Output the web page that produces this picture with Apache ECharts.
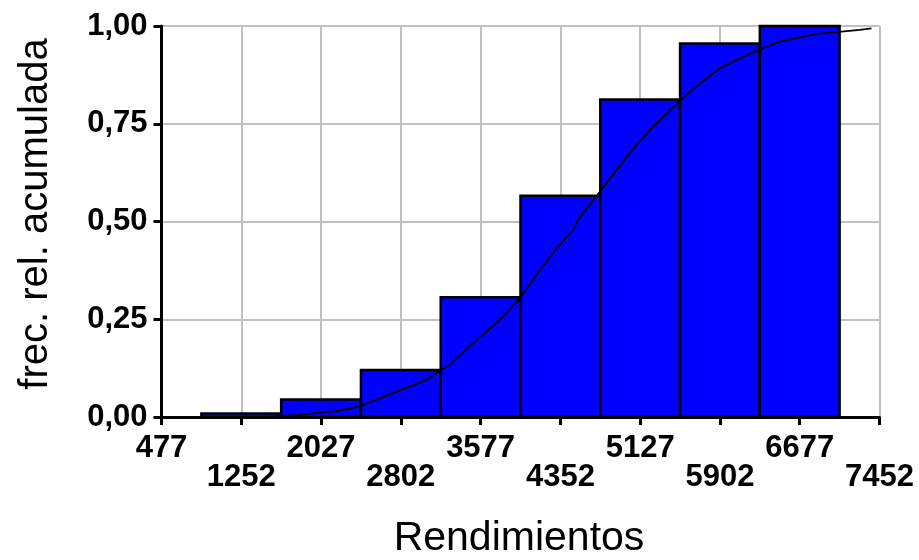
<!DOCTYPE html>
<html>
<head>
<meta charset="utf-8">
<style>
  html, body { margin: 0; padding: 0; background: #fff; }
  #chart { width: 919px; height: 560px; }
</style>
<script src="https://cdn.jsdelivr.net/npm/echarts@6/dist/echarts.min.js"></script>
</head>
<body>
<div id="chart"></div>
<script>
// Class marks (bin centres) of "Rendimientos" and their cumulative relative frequency
const binCenters = [1252, 2027, 2802, 3577, 4352, 5127, 5902, 6677];
const cumRelFreq = [0.009, 0.045, 0.120, 0.306, 0.566, 0.812, 0.955, 1.000];
const binWidth = 775;

// Axis ticks
const xTicks = [477, 1252, 2027, 2802, 3577, 4352, 5127, 5902, 6677, 7452];
const yTicks = [0, 0.25, 0.5, 0.75, 1];

// Empirical cumulative distribution (fitted curve)
const cdfX = [1500, 1790, 2016, 2211, 2405, 2725, 3053, 3191, 3279, 3502, 3764, 3965,
              4153, 4315, 4473, 4522, 4723, 4898, 5075, 5221, 5503, 5707, 5901, 6095,
              6280, 6484, 6646, 6840, 7057, 7261, 7374];
const cdfY = [0.000, 0.005, 0.011, 0.016, 0.028, 0.061, 0.095, 0.120, 0.133, 0.189, 0.248, 0.306,
              0.376, 0.431, 0.478, 0.504, 0.572, 0.632, 0.691, 0.734, 0.806, 0.853, 0.892, 0.917,
              0.939, 0.960, 0.969, 0.980, 0.985, 0.990, 0.994];

// The x axis starts at 477; values are plotted relative to that origin so the
// tick grid (step 775) lines up with the first tick.
const X0 = xTicks[0];
const X_STEP = xTicks[1] - xTicks[0];
const X_SPAN = xTicks[xTicks.length - 1] - X0;

const FONT = '"Liberation Sans", Arial, sans-serif';

const barData = binCenters.map((c, i) => [c - binWidth / 2 - X0, c + binWidth / 2 - X0, cumRelFreq[i]]);
const lineData = cdfX.map((x, i) => [x - X0, cdfY[i]]);

const chart = echarts.init(document.getElementById('chart'), null, { renderer: 'canvas' });

chart.setOption({
  animation: false,
  backgroundColor: '#ffffff',
  grid: { left: 161.5, right: 39.5, top: 26, bottom: 143, containLabel: false },
  xAxis: {
    type: 'value',
    min: 0,
    max: X_SPAN,
    interval: X_STEP,
    axisLine: { show: true, onZero: false, lineStyle: { color: '#000', width: 3 } },
    axisTick: { show: true, inside: false, length: 8, lineStyle: { color: '#000', width: 3 } },
    splitLine: { show: true, lineStyle: { color: '#c0c0c0', width: 2 } },
    axisLabel: {
      interval: 0,
      margin: 17,
      color: '#000',
      fontFamily: FONT,
      fontWeight: 'bold',
      fontSize: 31,
      lineHeight: 29,
      showMinLabel: true,
      showMaxLabel: true,
      formatter: function (v) {
        const idx = Math.round(v / X_STEP);
        const s = String(xTicks[idx]);
        return idx % 2 ? '\n' + s : s;
      }
    }
  },
  yAxis: {
    type: 'value',
    min: yTicks[0],
    max: yTicks[yTicks.length - 1],
    interval: yTicks[1] - yTicks[0],
    axisLine: { show: true, lineStyle: { color: '#000', width: 3 } },
    axisTick: { show: true, inside: false, length: 8, lineStyle: { color: '#000', width: 3 } },
    splitLine: { show: true, lineStyle: { color: '#c0c0c0', width: 2 } },
    axisLabel: {
      margin: 14,
      color: '#000',
      fontFamily: FONT,
      fontWeight: 'bold',
      fontSize: 31,
      formatter: function (v) { return v.toFixed(2).replace('.', ','); }
    }
  },
  graphic: [
    {
      type: 'text',
      x: 36,
      y: 214,
      rotation: Math.PI / 2,
      style: {
        text: 'frec. rel. acumulada',
        fontFamily: FONT,
        fontSize: 40,
        fill: '#000',
        align: 'center',
        verticalAlign: 'middle'
      }
    },
    {
      type: 'text',
      x: 519,
      y: 539,
      style: {
        text: 'Rendimientos',
        fontFamily: FONT,
        fontSize: 41,
        fill: '#000',
        align: 'center',
        verticalAlign: 'middle'
      }
    }
  ],
  series: [
    {
      type: 'custom',
      name: 'frecuencia acumulada',
      z: 2,
      encode: { x: [0, 1], y: 2 },
      data: barData,
      renderItem: function (params, api) {
        const top = api.coord([api.value(0), api.value(2)]);
        const bottom = api.coord([api.value(1), 0]);
        return {
          type: 'rect',
          shape: { x: top[0], y: top[1], width: bottom[0] - top[0], height: bottom[1] - top[1] },
          style: { fill: '#0000ff', stroke: '#000000', lineWidth: 2.5 }
        };
      }
    },
    {
      type: 'line',
      name: 'distribución',
      z: 3,
      data: lineData,
      showSymbol: false,
      smooth: false,
      lineStyle: { color: '#000', width: 1.8 }
    }
  ]
});
</script>
</body>
</html>
